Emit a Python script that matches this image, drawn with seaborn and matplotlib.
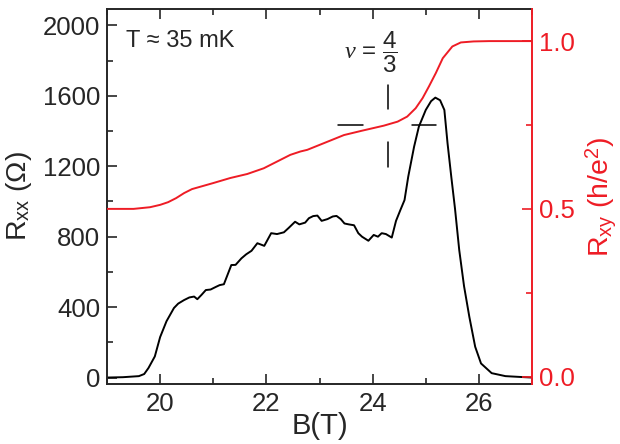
import matplotlib
matplotlib.use("Agg")
import matplotlib.pyplot as plt
from matplotlib.ticker import MultipleLocator, FormatStrFormatter
import seaborn as sns
import pandas as pd

# R_xx trace (black)
b_xx = [19.0, 19.3, 19.6, 19.7, 19.78, 19.9, 20.0, 20.12, 20.26, 20.34, 20.45, 20.55,
        20.64, 20.7, 20.78, 20.86, 20.95, 21.05, 21.12, 21.2, 21.34, 21.42, 21.53,
        21.62, 21.72, 21.83, 21.9, 21.96, 22.09, 22.2, 22.33, 22.42, 22.54, 22.62,
        22.73, 22.8, 22.88, 22.96, 23.04, 23.15, 23.25, 23.32, 23.4, 23.47, 23.55,
        23.65, 23.73, 23.8, 23.92, 24.02, 24.1, 24.17, 24.25, 24.36, 24.44, 24.52,
        24.6, 24.67, 24.78, 24.87, 25.0, 25.1, 25.18, 25.27, 25.35, 25.41, 25.48,
        25.55, 25.63, 25.72, 25.82, 25.93, 26.04, 26.24, 26.5, 26.8, 27.0]
r_xx = [0, 2, 8, 20, 54, 120, 230, 320, 395, 420, 440, 455,
        460, 445, 470, 497, 500, 515, 525, 530, 639, 640, 677,
        700, 720, 763, 755, 748, 820, 815, 825, 850, 885, 870,
        880, 905, 917, 920, 890, 900, 915, 918, 900, 875, 870,
        865, 820, 800, 777, 810, 800, 820, 815, 795, 890, 950,
        1008, 1141, 1311, 1425, 1520, 1570, 1590, 1575, 1520, 1330, 1141,
        960, 724, 520, 345, 175, 80, 25, 8, 3, 0]

# R_xy trace (red), in units of h/e^2
b_xy = [19.0, 19.5, 19.81, 20.0, 20.15, 20.3, 20.45, 20.6, 20.8, 21.0, 21.32, 21.64,
        21.95, 22.2, 22.45, 22.64, 22.77, 23.1, 23.46, 23.8, 24.21, 24.47, 24.65,
        24.81, 24.94, 25.06, 25.19, 25.32, 25.5, 25.66, 25.9, 26.2, 27.0]
r_xy = [0.5, 0.5, 0.505, 0.512, 0.52, 0.532, 0.547, 0.559, 0.568, 0.577, 0.592, 0.604,
        0.621, 0.641, 0.661, 0.671, 0.676, 0.697, 0.72, 0.733, 0.748, 0.76, 0.775,
        0.8, 0.83, 0.865, 0.905, 0.949, 0.984, 0.996, 0.999, 1.0, 1.0]

# nu = 4/3 marker: field position and R_xy plateau value (3/4 h/e^2)
nu_b = 24.28
nu_rxy = 0.75

red = "#ee1c25"

sns.set_style("ticks")
plt.rcParams["font.family"] = ["Liberation Sans", "DejaVu Sans"]
plt.rcParams["mathtext.fontset"] = "custom"
plt.rcParams["mathtext.rm"] = "Liberation Sans"
plt.rcParams["mathtext.it"] = "Liberation Serif:italic"

df_xx = pd.DataFrame({"B": b_xx, "R": r_xx})
df_xy = pd.DataFrame({"B": b_xy, "R": r_xy})

fig = plt.figure(figsize=(6.2, 4.44), dpi=100)
ax = fig.add_axes([0.1726, 0.135, 0.6855, 0.845])
ax2 = ax.twinx()

sns.lineplot(data=df_xx, x="B", y="R", ax=ax, color="black", linewidth=1.4)
sns.lineplot(data=df_xy, x="B", y="R", ax=ax2, color=red, linewidth=1.4)

ax.set_xlim(19, 27)
ax.set_ylim(-37, 2094)
ax2.set_ylim(-0.022, 1.096)

ax.xaxis.set_major_locator(MultipleLocator(2))
ax.xaxis.set_minor_locator(MultipleLocator(1))
ax.yaxis.set_major_locator(MultipleLocator(400))
ax.yaxis.set_minor_locator(MultipleLocator(200))
ax2.yaxis.set_major_locator(MultipleLocator(0.5))
ax2.yaxis.set_minor_locator(MultipleLocator(0.25))

for s in ["left", "bottom", "top"]:
    ax.spines[s].set_linewidth(1.4)
ax.spines["right"].set_visible(False)
for s in ["left", "bottom", "top"]:
    ax2.spines[s].set_visible(False)
ax2.spines["right"].set_color(red)
ax2.spines["right"].set_linewidth(1.4)

ax.tick_params(axis="both", which="major", direction="in", length=7, width=1.2,
               labelsize=18.5, top=True, right=False, pad=5)
ax.tick_params(axis="x", which="major", pad=6)
ax.tick_params(axis="both", which="minor", direction="in", length=4, width=1.2,
               top=True, right=False)
ax2.tick_params(axis="y", which="major", direction="in", length=7, width=1.2,
                labelsize=18.5, colors=red, pad=5)
ax2.tick_params(axis="y", which="minor", direction="in", length=4, width=1.2,
                colors=red)
ax2.yaxis.set_major_formatter(FormatStrFormatter("%.1f"))

ax.set_xlabel("B(T)", fontsize=21, va="center")
ax.xaxis.set_label_coords(0.5, -0.112)
ax.set_ylabel(r"R$_{\mathrm{xx}}$ ($\Omega$)", fontsize=20.5, labelpad=6)
ax2.set_ylabel(r"R$_{\mathrm{xy}}$ (h/e$^{2}$)", fontsize=20.5, color=red, labelpad=6)

ax.text(19.36, 1912, "T \u2248 35 mK", fontsize=17, va="center", ha="left")
ax2.text(nu_b + 0.2, 0.968, r"$\nu$ = $\dfrac{4}{3}$", fontsize=17.5,
         va="center", ha="right")

# cross marking the 4/3 plateau
ax2.plot([nu_b - 0.93, nu_b - 0.47], [nu_rxy, nu_rxy], color="black", lw=1.1)
ax2.plot([nu_b + 0.47, nu_b + 0.91], [nu_rxy, nu_rxy], color="black", lw=1.1)
ax2.plot([nu_b, nu_b], [nu_rxy + 0.047, nu_rxy + 0.12], color="black", lw=1.1)
ax2.plot([nu_b, nu_b], [nu_rxy - 0.124, nu_rxy - 0.051], color="black", lw=1.1)

fig.savefig("out.png", dpi=100)
